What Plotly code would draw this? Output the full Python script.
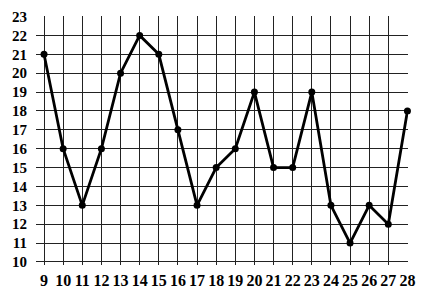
import plotly.graph_objects as go

days = list(range(9, 29))
values = [21, 16, 13, 16, 20, 22, 21, 17, 13, 15, 16, 19, 15, 15, 19, 13, 11, 13, 12, 18]
y_ticks = list(range(10, 24))

yfont = dict(family="Liberation Serif, DejaVu Serif, serif", size=15, color="black")
xfont = dict(family="Liberation Serif, DejaVu Serif, serif", size=16, color="black")

fig = go.Figure()
fig.add_trace(go.Scatter(
    x=days, y=values, mode="lines+markers",
    line=dict(color="black", width=2.8),
    marker=dict(color="black", size=7),
    showlegend=False, cliponaxis=False,
))

fig.update_xaxes(
    range=[8.58, 28.03], tickvals=days, ticktext=[f"<b>{d}</b>" for d in days],
    showgrid=True, gridcolor="#222", gridwidth=1, zeroline=False,
    showline=False, ticks="", tickfont=xfont, ticklabelstandoff=4,
    automargin=False,
)
fig.update_yaxes(
    range=[9.84, 23.03], tickvals=y_ticks, ticktext=[f"<b>{v}</b>" for v in y_ticks],
    showgrid=True, gridcolor="#222", gridwidth=1, zeroline=False,
    showline=False, ticks="", tickfont=yfont, ticklabelstandoff=8,
    automargin=False,
)
fig.update_layout(
    width=427, height=291,
    margin=dict(l=36, r=19, t=16, b=26, pad=0),
    plot_bgcolor="white", paper_bgcolor="white",
)
fig.write_html("out.html")
